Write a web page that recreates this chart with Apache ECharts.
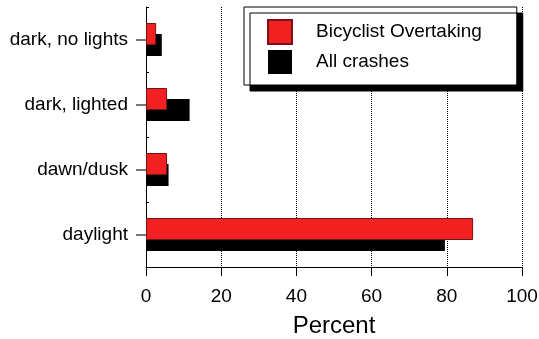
<!DOCTYPE html>
<html><head><meta charset="utf-8">
<script src="https://cdn.jsdelivr.net/npm/echarts@6/dist/echarts.min.js"></script>
<style>html,body{margin:0;padding:0;background:#fff}#c{width:539px;height:339px}</style>
</head><body><div id="c"></div>
<script>
const categories = ['daylight', 'dawn/dusk', 'dark, lighted', 'dark, no lights'];
const bicyclistOvertaking = [87.0, 5.6, 5.6, 2.7];
const allCrashes = [79.5, 6.0, 11.6, 4.2];
const xTicks = [0, 20, 40, 60, 80, 100];

const FONT = 'Liberation Sans, Arial, sans-serif';
const chart = echarts.init(document.getElementById('c'), null, {renderer: 'canvas'});
chart.setOption({
  animation: false,
  backgroundColor: '#fff',
  grid: {left: 146, right: 17, top: 7, bottom: 72, containLabel: false, outerBoundsMode: 'none'},
  legend: {
    orient: 'vertical', left: 244, top: 7,
    data: [{name: 'Bicyclist Overtaking', icon: 'rect'}, {name: 'All crashes', icon: 'rect'}],
    itemWidth: 24, itemHeight: 24, itemGap: 5,
    padding: [12, 35, 11, 23],
    backgroundColor: '#fff', borderColor: '#000', borderWidth: 1,
    shadowColor: '#000', shadowBlur: 0, shadowOffsetX: 6, shadowOffsetY: 6,
    textStyle: {fontFamily: FONT, fontSize: 19, color: '#000', padding: [0, 0, 0, 19]},
    selectedMode: false
  },
  xAxis: {
    type: 'value', min: xTicks[0], max: xTicks[xTicks.length - 1], interval: 20,
    name: 'Percent', nameLocation: 'middle', nameGap: 47,
    nameTextStyle: {fontFamily: FONT, fontSize: 24, color: '#000'},
    axisLine: {show: true, lineStyle: {color: '#000', width: 1}},
    axisTick: {show: true, length: 9, lineStyle: {color: '#000'}},
    axisLabel: {fontFamily: FONT, fontSize: 19, color: '#000', margin: 20},
    splitLine: {show: true, showMinLine: false, lineStyle: {color: '#000', type: 'dotted', width: 1}}
  },
  yAxis: [{
    type: 'category', data: categories,
    axisLine: {show: true, lineStyle: {color: '#000', width: 1}},
    axisTick: {show: true, alignWithLabel: true, length: 10, lineStyle: {color: '#777', width: 2}},
    axisLabel: {fontFamily: FONT, fontSize: 19, color: '#000', margin: 18},
    splitLine: {show: false}
  }, {
    type: 'category', data: categories, position: 'left',
    axisLine: {show: false},
    axisTick: {show: true, inside: true, length: 3, lineStyle: {color: '#000'}},
    axisLabel: {show: false},
    splitLine: {show: false}
  }],
  series: [{
    name: 'Bicyclist Overtaking', type: 'bar', data: bicyclistOvertaking,
    barWidth: 22, barGap: '-50%', z: 4,
    itemStyle: {color: '#f22020', borderColor: '#7a1414', borderWidth: 1}
  }, {
    name: 'All crashes', type: 'bar', data: allCrashes,
    barWidth: 22, z: 3,
    itemStyle: {color: '#000'}
  }]
});
</script></body></html>
